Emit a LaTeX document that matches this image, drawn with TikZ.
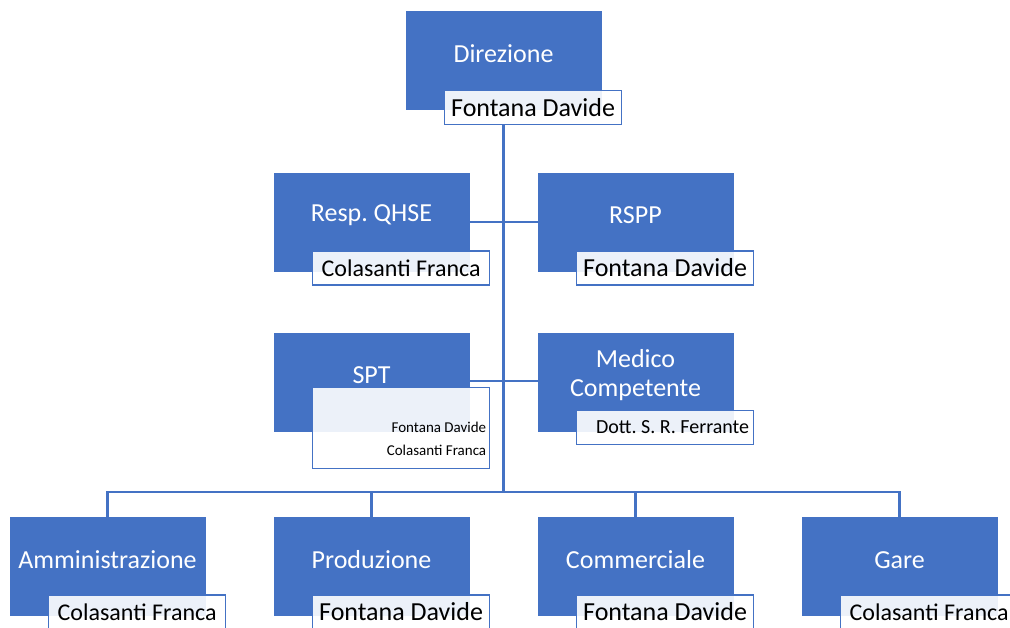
\documentclass[tikz,border=0pt]{standalone}
\usepackage{fontspec}
\setmainfont{Carlito}
\usetikzlibrary{positioning}
\definecolor{orgblue}{HTML}{4472C4}
\frenchspacing

\tikzset{
  unit/.style={fill=orgblue, draw=orgblue, minimum width=195pt, minimum height=98pt, inner sep=0pt},
  title/.style={text=white, align=center, font=\fontsize{26}{29}\selectfont},
  tag/.style={draw=orgblue, line width=1.6pt, fill=white, fill opacity=0.9, text opacity=1,
    minimum width=177pt, minimum height=34pt, inner sep=0pt, anchor=north west,
    font=\fontsize{26}{28}\selectfont},
  smalltag/.style={tag, font=\fontsize{24}{28}\selectfont},
  conn/.style={draw=orgblue, line width=2.2pt}
}

\begin{document}
\begin{tikzpicture}[line cap=butt,line join=miter,x=1pt,y=-1pt]
\useasboundingbox (0,0) rectangle (1010,627);
% boxes
\node[unit] (dir) at (503.5,60.5) {};
\node[unit] (qhse) at (371.5,222) {};
\node[unit] (rspp) at (635.5,222) {};
\node[unit] (spt) at (371.5,382.5) {};
\node[unit] (medico) at (635.5,382.5) {};
\node[unit] (amm) at (107.5,566) {};
\node[unit] (prod) at (371.5,566) {};
\node[unit] (comm) at (635.5,566) {};
\node[unit] (gare) at (899.5,566) {};
% titles
\node[title] at ([yshift=7pt]dir.center) {Direzione};
\node[title] at ([yshift=7pt]qhse.center) {Resp. QHSE};
\node[title] at ([yshift=7pt]rspp.center) {RSPP};
\node[title] at ([yshift=7pt]spt.center) {SPT};
\node[title] at ([yshift=7pt]medico.center) {Medico\\Competente};
\node[title] at ([yshift=6pt]amm.center) {Amministrazione};
\node[title] at ([yshift=6pt]prod.center) {Produzione};
\node[title] at ([yshift=6pt]comm.center) {Commerciale};
\node[title] at ([yshift=6pt]gare.center) {Gare};
% connectors
\coordinate (bus) at (503.5,492);
\draw[conn] (qhse.east) -- (rspp.west);
\draw[conn] ([yshift=1.5pt]spt.east) -- ([yshift=1.5pt]medico.west);
\draw[conn] (amm.north) |- (gare.north |- bus) -- (gare.north);
\draw[conn] (prod.north) -- (prod.north |- bus);
\draw[conn] (comm.north) -- (comm.north |- bus);
% name tags
\node[tag] (dirTag) at ([xshift=38pt,yshift=20pt]dir.south west) {Fontana Davide};
\draw[conn] (dir.center |- dirTag.south) -- (bus);
\node[smalltag] (qhseTag) at ([xshift=38pt,yshift=21pt]qhse.south west) {Colasanti Franca};
\node[tag] (rsppTag) at ([xshift=38pt,yshift=21pt]rspp.south west) {Fontana Davide};
\node[tag, minimum height=81pt] (sptTag) at ([xshift=38pt,yshift=45pt]spt.south west) {};
\node[anchor=south east, align=right, inner sep=0pt, font=\fontsize{15}{23}\selectfont]
  at ([xshift=-4pt,yshift=13pt]sptTag.south east) {Fontana Davide\\Colasanti Franca};
\node[tag] (medicoTag) at ([xshift=38pt,yshift=22pt]medico.south west) {};
\node[anchor=east, inner sep=0pt, font=\fontsize{20}{24}\selectfont]
  at ([xshift=-5pt]medicoTag.east) {Dott. S. R. Ferrante};
\node[smalltag] (ammTag) at ([xshift=38pt,yshift=21pt]amm.south west) {Colasanti Franca};
\node[tag] (prodTag) at ([xshift=38pt,yshift=21pt]prod.south west) {Fontana Davide};
\node[tag] (commTag) at ([xshift=38pt,yshift=21pt]comm.south west) {Fontana Davide};
\node[smalltag] (gareTag) at ([xshift=38pt,yshift=21pt]gare.south west) {Colasanti Franca};
\end{tikzpicture}
\end{document}
